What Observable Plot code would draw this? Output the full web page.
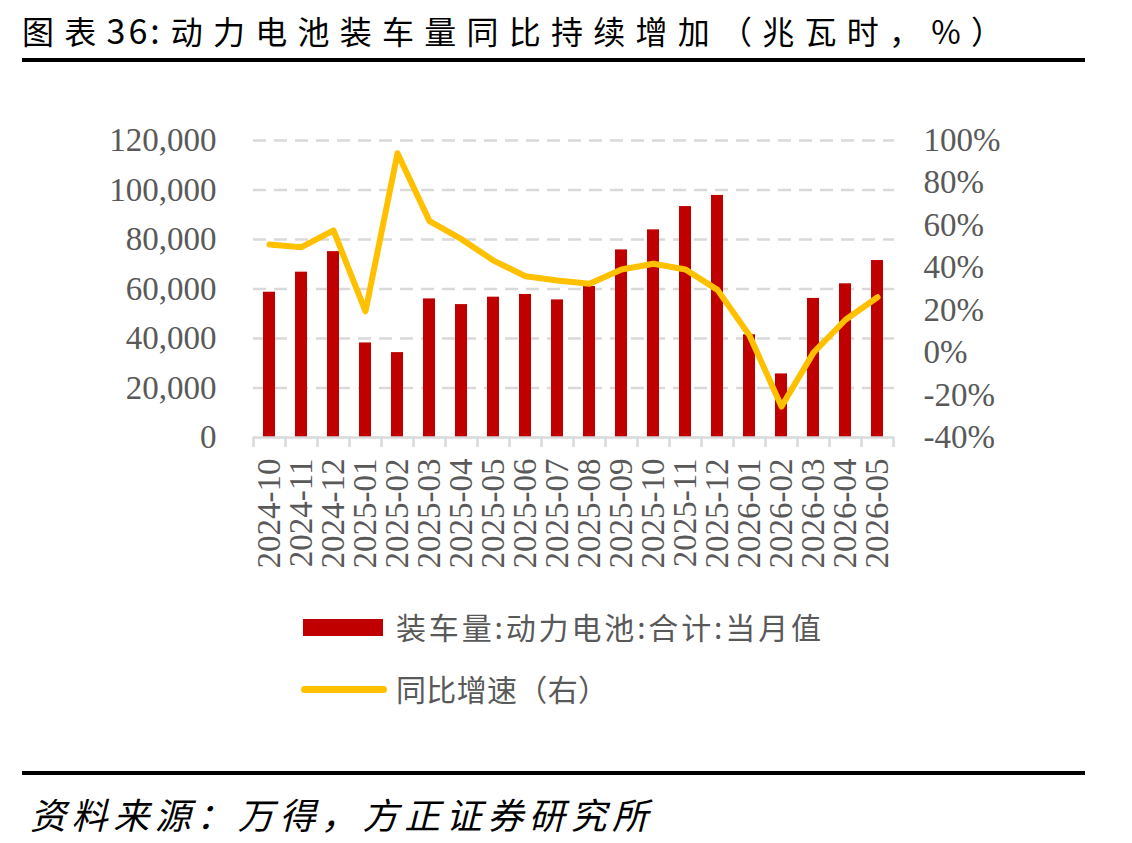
<!DOCTYPE html>
<html><head><meta charset="utf-8">
<script src="https://cdn.jsdelivr.net/npm/d3@7"></script>
<script src="https://cdn.jsdelivr.net/npm/@observablehq/plot@0.6"></script>
<style>
body{margin:0;background:#fff;}
#wrap{position:relative;width:1132px;height:843px;overflow:hidden;background:#fff;}
.abs{position:absolute;white-space:nowrap;}
.cjk{font-family:"Noto Sans CJK SC","Noto Sans",sans-serif;}
#title .num{font-size:34px;letter-spacing:3px;padding-right:8px;}
</style></head><body>
<div id="wrap">
  <div id="chart" class="abs" style="left:0;top:0"></div>
  <div id="title" class="abs cjk" style="left:22px;top:14px;font-size:32px;line-height:32px;color:#000"><span id="t1"></span><span id="t2" class="num"></span><span id="t3"></span></div>
  <div class="abs" style="left:22px;top:58px;width:1063px;height:4px;background:#000"></div>
  <div class="abs" style="left:303px;top:619px;width:80px;height:17px;background:#c00000"></div>
  <div id="leg1" class="abs cjk" style="left:396px;top:611px;font-size:30px;line-height:30px;color:#595959"></div>
  <div class="abs" style="left:301px;top:685.5px;width:86px;height:7px;border-radius:3.5px;background:#ffc000"></div>
  <div id="leg2" class="abs cjk" style="left:396px;top:673px;font-size:30px;line-height:30px;color:#595959"></div>
  <div class="abs" style="left:22px;top:771px;width:1063px;height:4px;background:#000"></div>
  <div id="foot" class="abs cjk" style="left:30px;top:795px;font-size:36px;line-height:36px;color:#000;font-style:italic"></div>
</div>
<script>
const titleParts = ["图表", "36:", "动力电池装车量同比持续增加（兆瓦时，%）"];
const seriesBarName = "装车量:动力电池:合计:当月值";
const seriesLineName = "同比增速（右）";
const sourceText = "资料来源：万得，方正证券研究所";

const months = ["2024-10","2024-11","2024-12","2025-01","2025-02","2025-03","2025-04","2025-05","2025-06","2025-07",
                "2025-08","2025-09","2025-10","2025-11","2025-12","2026-01","2026-02","2026-03","2026-04","2026-05"];
const volume = [58700, 66800, 75100, 38200, 34300, 56000, 53700, 56700, 57800, 55600,
                61000, 75800, 83900, 93300, 97800, 41500, 25700, 56200, 62100, 71500];
const yoy = [51.0, 49.7, 57.6, 19.5, 94.0, 62.0, 53.5, 43.4, 36.0, 34.0,
             32.5, 39.2, 41.9, 39.2, 29.6, 8.1, -25.4, 0.0, 15.5, 26.1];

const leftTicks = [0, 20000, 40000, 60000, 80000, 100000, 120000];
const rightTicks = [-40, -20, 0, 20, 40, 60, 80, 100];
const rightLabels = ["-40%", "-20%", "0%", "20%", "40%", "60%", "80%", "100%"];

const volMax = 120000, pctMin = -40, pctMax = 100;
const toLeft = p => (p - pctMin) / (pctMax - pctMin) * volMax;

const W = 1132, H = 590, mL = 253, mR = 238, mT = 140, mB = 153;
const step = (W - mL - mR) / months.length;

const rows = months.map((m, i) => ({m, v: volume[i], p: toLeft(yoy[i])}));

const chart = Plot.plot({
  width: W, height: H,
  marginLeft: mL, marginRight: mR, marginTop: mT, marginBottom: mB,
  style: {fontFamily: '"Liberation Serif","Times New Roman",serif', fontSize: "33px", color: "#595959", background: "transparent", overflow: "visible"},
  x: {type: "band", domain: months, paddingInner: 0.62, paddingOuter: 0.31},
  y: {domain: [0, volMax]},
  marks: [
    Plot.ruleY(leftTicks.filter(v => v > 0), {stroke: "#d9d9d9", strokeWidth: 2.5, strokeDasharray: "13,8"}),
    Plot.barY(rows, {x: "m", y: "v", fill: "#c00000"}),
    Plot.ruleY([0], {stroke: "#d9d9d9", strokeWidth: 2.5}),
    Plot.axisX({ticks: months, tickSize: 10, tickFormat: () => "", dx: -step / 2, stroke: "#d9d9d9", strokeWidth: 2.5, label: null}),
    Plot.axisX({ticks: [months[months.length - 1]], tickSize: 10, tickFormat: () => "", dx: step / 2, stroke: "#d9d9d9", strokeWidth: 2.5, label: null}),
    Plot.line(rows, {x: "m", y: "p", stroke: "#ffc000", strokeWidth: 6, strokeLinejoin: "round", strokeLinecap: "round"}),
    Plot.axisY({ticks: leftTicks, tickFormat: d3.format(","), tickSize: 0, tickPadding: 37, label: null}),
    Plot.axisY({anchor: "right", ticks: rightTicks.map(toLeft),
      tickFormat: v => rightLabels[rightTicks.findIndex(t => Math.abs(toLeft(t) - v) < 1e-6)],
      tickSize: 0, tickPadding: 29, label: null}),
    Plot.axisX({tickSize: 0, tickPadding: 21, tickRotate: -90, label: null})
  ]
});
document.getElementById("chart").appendChild(chart);

document.getElementById("t1").textContent = titleParts[0];
document.getElementById("t2").textContent = titleParts[1];
document.getElementById("t3").textContent = titleParts[2];
document.getElementById("leg1").textContent = seriesBarName;
document.getElementById("leg2").textContent = seriesLineName;
document.getElementById("foot").textContent = sourceText;

function fit(id, target) {
  const el = document.getElementById(id);
  el.style.letterSpacing = "0px";
  const w = el.getBoundingClientRect().width;
  const n = [...el.textContent].length;
  el.style.letterSpacing = ((target - w) / (n - 1)) + "px";
}
function fitTitle(target) {
  const el = document.getElementById("title");
  el.style.letterSpacing = "0px";
  const w = el.getBoundingClientRect().width;
  const n = [...titleParts[0]].length + [...titleParts[2]].length;
  el.style.letterSpacing = ((target - w) / (n - 1)) + "px";
}
function fitAll() {
  fitTitle(981);
  fit("leg1", 425);
  fit("leg2", 212);
  fit("foot", 618);
}
fitAll();
if (document.fonts && document.fonts.ready) document.fonts.ready.then(fitAll);
</script>
</body></html>
